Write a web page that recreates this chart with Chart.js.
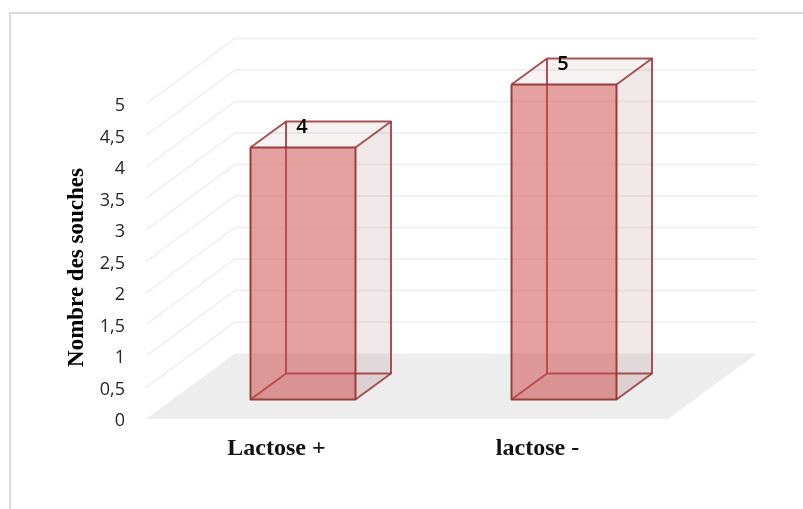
<!DOCTYPE html>
<html>
<head>
<meta charset="utf-8">
<title>Nombre des souches</title>
<script src="https://cdn.jsdelivr.net/npm/chart.js@4"></script>
<style>
  html, body { margin: 0; padding: 0; background: #fff; }
  canvas { display: block; position: relative; }
  /* thin frame, open towards the right and the bottom */
  #frame { position: absolute; left: 9px; top: 12px; right: 0; bottom: 0; height: 497px;
           border-left: 2px solid #dadada; border-top: 2px solid #dadada; box-sizing: border-box; }
</style>
</head>
<body>
<div id="frame"></div>
<canvas id="lactoseChart" width="803" height="509"></canvas>
<script>
//chart data
var categories = ['Lactose +', 'lactose -'];
var souches = [4, 5];
var yTickLabels = ['0', '0,5', '1', '1,5', '2', '2,5', '3', '3,5', '4', '4,5', '5'];
var yTitle = 'Nombre des souches';

//depth of the floor and of the bars, in pixels
var floorDepth = { x: 89, y: 65.5 };
var barOffset = { x: 26.5, y: 19.5 };
var barDepth = { x: 35.5, y: 26 };

function poly(ctx, pts, fill, stroke) {
    ctx.beginPath();
    ctx.moveTo(pts[0][0], pts[0][1]);
    for (var i = 1; i < pts.length; i++) ctx.lineTo(pts[i][0], pts[i][1]);
    if (fill) {
        ctx.closePath();
        ctx.fillStyle = fill;
        ctx.fill();
    }
    if (stroke) {
        ctx.strokeStyle = stroke;
        ctx.lineWidth = 2;
        ctx.lineJoin = 'round';
        ctx.stroke();
    }
}

//wraps a scale draw call so it lands a few pixels lower
function shiftDown(scale, name, px) {
    const draw = scale[name];
    if (draw.shifted) return;
    scale[name] = function () {
        this.ctx.save();
        this.ctx.translate(0, px);
        draw.apply(this, arguments);
        this.ctx.restore();
    };
    scale[name].shifted = true;
}

//floor and back wall gridlines
const wallPlugin = {
    id: 'wall',
    beforeDatasetsDraw(chart) {
        const ctx = chart.ctx;
        const a = chart.chartArea;
        const y = chart.scales.y;
        const dx = floorDepth.x, dy = floorDepth.y;
        poly(ctx, [[a.left, a.bottom], [a.left + dx, a.bottom - dy], [a.right + dx, a.bottom - dy], [a.right, a.bottom]], '#ededed');
        y.ticks.forEach(function (t) {
            if (t.value === 0) return;
            const py = y.getPixelForValue(t.value);
            ctx.beginPath();
            ctx.moveTo(a.left, py);
            ctx.lineTo(a.left + dx, py - dy);
            ctx.lineTo(a.right + dx, py - dy);
            ctx.strokeStyle = '#f2f2f2';
            ctx.lineWidth = 2;
            ctx.stroke();
        });
    }
};

//draws the depth of each bar around the library's own front face
const boxPlugin = {
    id: 'box',
    beforeDatasetDraw(chart, args) {
        const ctx = chart.ctx;
        ctx.save();
        ctx.translate(barOffset.x, -barOffset.y);
        args.meta.data.forEach(function (bar) {
            const l = bar.x - bar.width / 2, r = bar.x + bar.width / 2;
            const t = bar.y, b = bar.base;
            const dx = barDepth.x, dy = barDepth.y;
            const edge = 'rgba(150,55,55,0.85)';
            poly(ctx, [[l, b], [r, b], [r + dx, b - dy], [l + dx, b - dy]], 'rgba(140,70,70,0.06)');
            poly(ctx, [[l, t], [r, t], [r + dx, t - dy], [l + dx, t - dy]], 'rgba(140,70,70,0.07)');
            poly(ctx, [[r, t], [r + dx, t - dy], [r + dx, b - dy], [r, b]], 'rgba(140,70,70,0.12)');
            //back edges, seen through the front face
            poly(ctx, [[l, b], [l + dx, b - dy], [r + dx, b - dy]], null, edge);
            poly(ctx, [[l + dx, b - dy], [l + dx, t - dy]], null, edge);
            poly(ctx, [[l, t], [l + dx, t - dy], [r + dx, t - dy], [r, t]], null, edge);
            poly(ctx, [[r + dx, t - dy], [r + dx, b - dy], [r, b]], null, edge);
        });
    },
    afterDatasetDraw(chart, args) {
        const ctx = chart.ctx;
        args.meta.data.forEach(function (bar) {
            const l = bar.x - bar.width / 2, r = bar.x + bar.width / 2;
            poly(ctx, [[l, bar.y], [r, bar.y], [r, bar.base], [l, bar.base], [l, bar.y]], null, 'rgba(150,55,55,0.95)');
        });
        ctx.restore();
    },
    afterDatasetsDraw(chart) {
        const ctx = chart.ctx;
        const meta = chart.getDatasetMeta(0);
        ctx.save();
        ctx.fillStyle = '#000';
        ctx.font = '600 20px "Open Sans"';
        ctx.textAlign = 'center';
        ctx.textBaseline = 'middle';
        meta.data.forEach(function (bar, i) {
            ctx.fillText(String(souches[i]), bar.x + barOffset.x - 1, bar.y - barOffset.y - 20);
        });
        ctx.restore();
    },
    afterLayout(chart) {
        shiftDown(chart.scales.y, 'drawTitle', 6);
        shiftDown(chart.scales.y, 'drawLabels', 2);
    }
};

const resultChart = document.getElementById('lactoseChart');
const myChart = new Chart(resultChart, {
    type: 'bar',
    plugins: [wallPlugin, boxPlugin],
    data: {
        labels: categories,
        datasets: [{
            label: yTitle,
            data: souches,
            backgroundColor: 'rgba(206,73,73,0.52)',
            borderWidth: 0,
            barThickness: 105,
            clip: false
        }]
    },
    options: {
        responsive: false,
        animation: false,
        layout: { padding: { left: 63, top: 104, right: 135, bottom: 0 } },
        plugins: { legend: { display: false }, tooltip: { enabled: false } },
        scales: {
            x: {
                grid: { display: false },
                border: { display: false },
                ticks: {
                    color: '#111',
                    padding: 7,
                    font: { family: '"Liberation Serif"', size: 24, weight: 'bold' }
                },
                afterFit(scale) { scale.height = 90; }
            },
            y: {
                min: 0,
                max: 5,
                grid: { display: false, drawTicks: false },
                border: { display: false },
                ticks: {
                    stepSize: 0.5,
                    padding: 21,
                    color: '#262626',
                    font: { family: '"Open Sans"', size: 18 },
                    callback: function (v, i) { return yTickLabels[i]; }
                },
                title: {
                    display: true,
                    text: yTitle,
                    color: '#000',
                    padding: 0,
                    font: { family: '"Liberation Serif"', size: 23, weight: 'bold' }
                },
                afterFit(scale) { scale.width = 83; }
            }
        }
    }
});
</script>
</body>
</html>
